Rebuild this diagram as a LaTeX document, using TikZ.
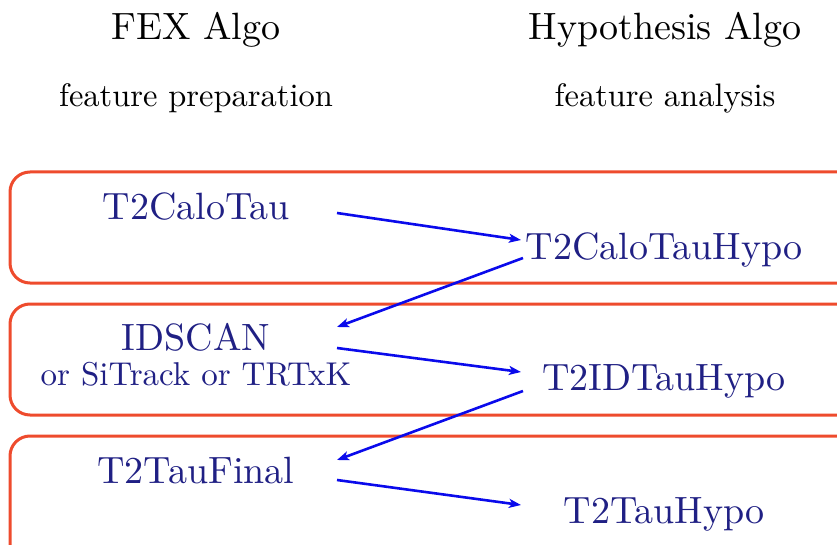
\documentclass[tikz,border=0pt]{standalone}
\usepackage{fontspec}
\setmainfont{lmroman10-regular}[Extension=.otf]
\usetikzlibrary{arrows.meta}
\definecolor{boxred}{RGB}{238,75,45}
\definecolor{navytext}{RGB}{32,32,132}
\definecolor{arrblue}{RGB}{10,10,235}
\begin{document}
\begin{tikzpicture}[x=1pt,y=-1pt,
  headtxt/.style={inner sep=0pt,anchor=base,font=\fontsize{38}{40}\selectfont,text=black},
  subtxt/.style={inner sep=0pt,anchor=base,font=\fontsize{32.5}{34}\selectfont,text=black},
  algo/.style={inner sep=0pt,anchor=base,font=\fontsize{38}{40}\selectfont,text=navytext},
  algosmall/.style={inner sep=0pt,anchor=base,font=\fontsize{33}{35}\selectfont,text=navytext},
  stagebox/.style={draw=boxred,line width=3pt,rounded corners=20pt},
  flow/.style={draw=arrblue,line width=2.6pt,-{Stealth[length=12pt,width=9pt,inset=3pt]}}]
\useasboundingbox (0,0) rectangle (837,545);
\clip (0,0) rectangle (837,545);
% stage boxes
\draw[stagebox] (10,172) rectangle (870,283);
\draw[stagebox] (10,304) rectangle (870,415);
\draw[stagebox] (10,436) rectangle (870,580);
% headings
\node[headtxt] (fex) at (196,40) {FEX Algo};
\node[headtxt] (hyp) at (665,40) {Hypothesis Algo};
\node[subtxt] (prep) at (196,107) {feature preparation};
\node[subtxt] (anal) at (665,107) {feature analysis};
% algorithms
\node[algo] (calo) at (196,220) {T2CaloTau};
\node[algo] (calohypo) at (664,259) {T2CaloTauHypo};
\node[algo] (idscan) at (196,350) {IDSCAN};
\node[algosmall] (idalt) at (196,385) {or SiTrack or TRTxK};
\node[algo] (idhypo) at (664,390) {T2IDTauHypo};
\node[algo] (final) at (196,483) {T2TauFinal};
\node[algo] (tauhypo) at (664,523) {T2TauHypo};
% flow arrows
\draw[flow] ([shift={(141,-7)}]calo.base) -- ([shift={(-143,-19)}]calohypo.base);
\draw[flow] ([shift={(-141,-1)}]calohypo.base) -- ([shift={(141,-23)}]idscan.base);
\draw[flow] ([shift={(141,-2)}]idscan.base) -- ([shift={(-143,-18)}]idhypo.base);
\draw[flow] ([shift={(-141,1)}]idhypo.base) -- ([shift={(141,-23)}]final.base);
\draw[flow] ([shift={(141,-3)}]final.base) -- ([shift={(-143,-18)}]tauhypo.base);
\end{tikzpicture}
\end{document}
